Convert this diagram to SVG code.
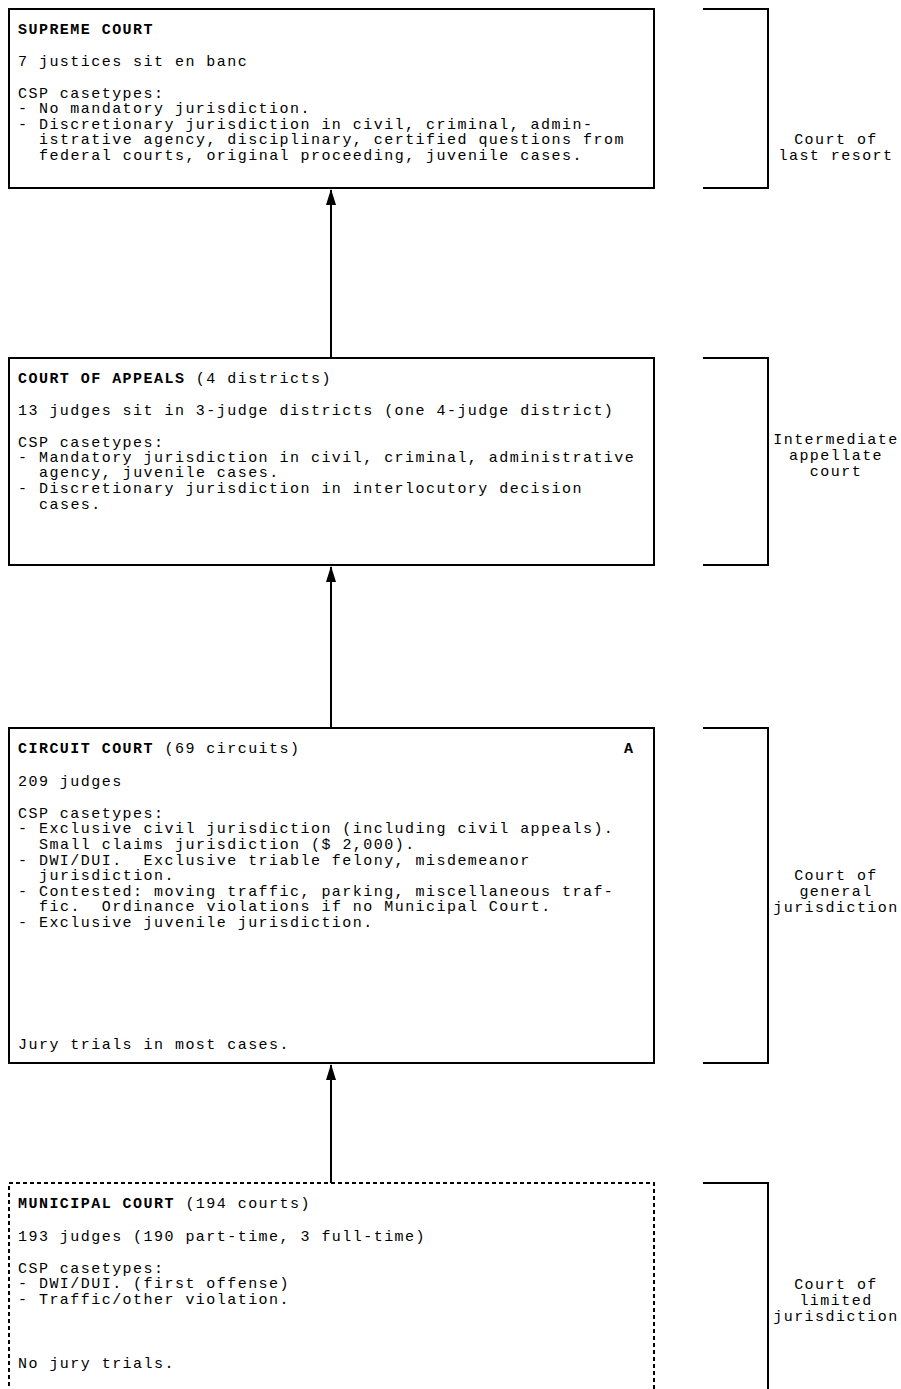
<svg xmlns="http://www.w3.org/2000/svg" width="901" height="1389" viewBox="0 0 901 1389">
<defs>
<style>
text{font-family:"Liberation Mono","DejaVu Sans Mono",monospace;font-size:15px;letter-spacing:1.46px;fill:#000}
.t{font-weight:bold}
.n{font-weight:normal}
.box{fill:#fff;stroke:#000;stroke-width:2}
.dash{fill:#fff;stroke:#000;stroke-width:2;stroke-dasharray:4 3}
.br{fill:none;stroke:#000;stroke-width:2}
.lbl{text-anchor:middle}
.conn{stroke:#000;stroke-width:2;fill:none}
</style>
<marker id="ah" viewBox="0 0 16 10" refX="15" refY="5" markerWidth="16" markerHeight="10" markerUnits="userSpaceOnUse" orient="auto">
<path d="M0,0 L16,5 L0,10 Z" fill="#000"/>
</marker>
</defs>
<rect width="901" height="1389" fill="#fff"/>

<g id="connectors">
<line class="conn" x1="331" y1="358" x2="331" y2="190" marker-end="url(#ah)"/>
<line class="conn" x1="331" y1="728" x2="331" y2="567" marker-end="url(#ah)"/>
<line class="conn" x1="331" y1="1183" x2="331" y2="1065" marker-end="url(#ah)"/>
</g>

<g id="supreme-court">
<rect class="box" x="9" y="9" width="645" height="179"/>
<text class="t" x="18" y="34">SUPREME COURT</text>
<text x="18" y="66">7 justices sit en banc</text>
<text x="18" y="98">CSP casetypes:</text>
<text x="18" y="113">- No mandatory jurisdiction.</text>
<text x="18" y="129">- Discretionary jurisdiction in civil, criminal, admin-</text>
<text x="39" y="144">istrative agency, disciplinary, certified questions from</text>
<text x="39" y="160">federal courts, original proceeding, juvenile cases.</text>
</g>
<g id="level-last-resort">
<path class="br" d="M703,9 H768 V188 H703"/>
<text class="lbl" x="836" y="144">Court of</text>
<text class="lbl" x="836" y="160">last resort</text>
</g>

<g id="court-of-appeals">
<rect class="box" x="9" y="358" width="645" height="207"/>
<text class="t" x="18" y="383">COURT OF APPEALS <tspan class="n">(4 districts)</tspan></text>
<text x="18" y="415">13 judges sit in 3-judge districts (one 4-judge district)</text>
<text x="18" y="447">CSP casetypes:</text>
<text x="18" y="462">- Mandatory jurisdiction in civil, criminal, administrative</text>
<text x="39" y="477">agency, juvenile cases.</text>
<text x="18" y="493">- Discretionary jurisdiction in interlocutory decision</text>
<text x="39" y="509">cases.</text>
</g>
<g id="level-intermediate">
<path class="br" d="M703,358 H768 V565 H703"/>
<text class="lbl" x="836" y="444">Intermediate</text>
<text class="lbl" x="836" y="460">appellate</text>
<text class="lbl" x="836" y="476">court</text>
</g>

<g id="circuit-court">
<rect class="box" x="9" y="728" width="645" height="335"/>
<text class="t" x="18" y="753">CIRCUIT COURT <tspan class="n">(69 circuits)</tspan></text>
<text class="t" x="624" y="753">A</text>
<text x="18" y="786">209 judges</text>
<text x="18" y="818">CSP casetypes:</text>
<text x="18" y="833">- Exclusive civil jurisdiction (including civil appeals).</text>
<text x="39" y="849">Small claims jurisdiction ($ 2,000).</text>
<text x="18" y="865" xml:space="preserve">- DWI/DUI.  Exclusive triable felony, misdemeanor</text>
<text x="39" y="880">jurisdiction.</text>
<text x="18" y="896">- Contested: moving traffic, parking, miscellaneous traf-</text>
<text x="39" y="911" xml:space="preserve">fic.  Ordinance violations if no Municipal Court.</text>
<text x="18" y="927">- Exclusive juvenile jurisdiction.</text>
<text x="18" y="1049">Jury trials in most cases.</text>
</g>
<g id="level-general">
<path class="br" d="M703,728 H768 V1063 H703"/>
<text class="lbl" x="836" y="880">Court of</text>
<text class="lbl" x="836" y="896">general</text>
<text class="lbl" x="836" y="912">jurisdiction</text>
</g>

<g id="municipal-court">
<rect class="dash" x="9" y="1183" width="645" height="230"/>
<text class="t" x="18" y="1208">MUNICIPAL COURT <tspan class="n">(194 courts)</tspan></text>
<text x="18" y="1241">193 judges (190 part-time, 3 full-time)</text>
<text x="18" y="1273">CSP casetypes:</text>
<text x="18" y="1288">- DWI/DUI. (first offense)</text>
<text x="18" y="1304">- Traffic/other violation.</text>
<text x="18" y="1368">No jury trials.</text>
</g>
<g id="level-limited">
<path class="br" d="M703,1183 H768 V1395"/>
<text class="lbl" x="836" y="1289">Court of</text>
<text class="lbl" x="836" y="1305">limited</text>
<text class="lbl" x="836" y="1321">jurisdiction</text>
</g>
</svg>
